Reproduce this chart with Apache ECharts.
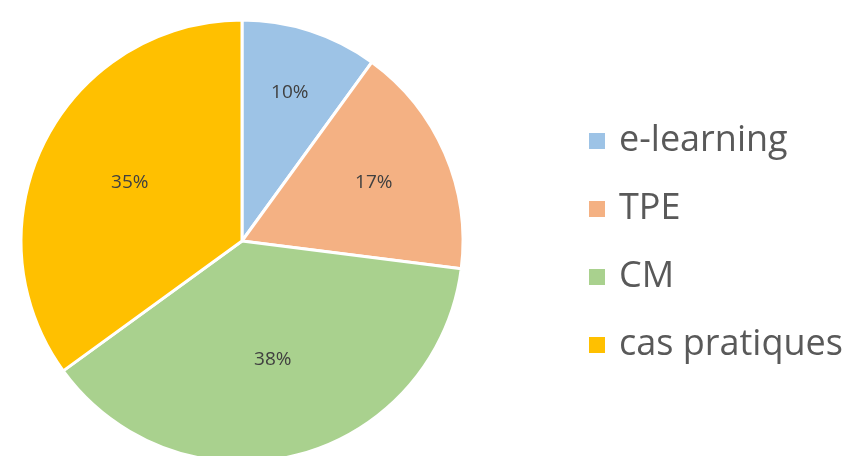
<!DOCTYPE html>
<html><head><meta charset="utf-8">
<script src="https://cdn.jsdelivr.net/npm/echarts@6/dist/echarts.min.js"></script>
<style>html,body{margin:0;padding:0;background:#fff}#c{width:855px;height:456px}</style>
</head><body><div id="c"></div>
<script>
const categories = ['e-learning', 'TPE', 'CM', 'cas pratiques'];
const values = [10, 17, 38, 35];
const colors = ['#9DC3E6', '#F4B183', '#A9D18E', '#FFC000'];
const labelRadiusRatio = [0.70, 0.65, 0.56, 0.57];

const CX = 242, CY = 241, R = 221;
const total = values.reduce((a, b) => a + b, 0);

const chart = echarts.init(document.getElementById('c'), null, {renderer: 'canvas'});
chart.setOption({
  animation: false,
  color: colors,
  legend: {
    orient: 'vertical',
    left: 587,
    top: 121,
    padding: 0,
    itemWidth: 18,
    itemHeight: 18,
    itemGap: 28,
    icon: 'rect',
    data: categories,
    textStyle: {fontFamily: 'Open Sans', fontSize: 36, color: '#595959', lineHeight: 40, padding: [0, 0, 0, 8]}
  },
  series: [{
    type: 'pie',
    center: [CX, CY],
    radius: [0, R],
    startAngle: 90,
    clockwise: true,
    avoidLabelOverlap: false,
    itemStyle: {borderColor: '#fff', borderWidth: 3},
    label: {
      show: true,
      position: 'inside',
      formatter: p => Math.round(p.value / total * 100) + '%',
      fontFamily: 'Open Sans',
      fontSize: 19,
      color: '#404040'
    },
    labelLine: {show: false},
    labelLayout: function (params) {
      const i = params.dataIndex;
      let cum = 0;
      for (let k = 0; k < i; k++) cum += values[k];
      const mid = (cum + values[i] / 2) / total * 2 * Math.PI;
      const r = R * labelRadiusRatio[i];
      return {x: CX + r * Math.sin(mid), y: CY - r * Math.cos(mid) - 1};
    },
    data: categories.map((n, i) => ({name: n, value: values[i]}))
  }]
});
</script></body></html>
